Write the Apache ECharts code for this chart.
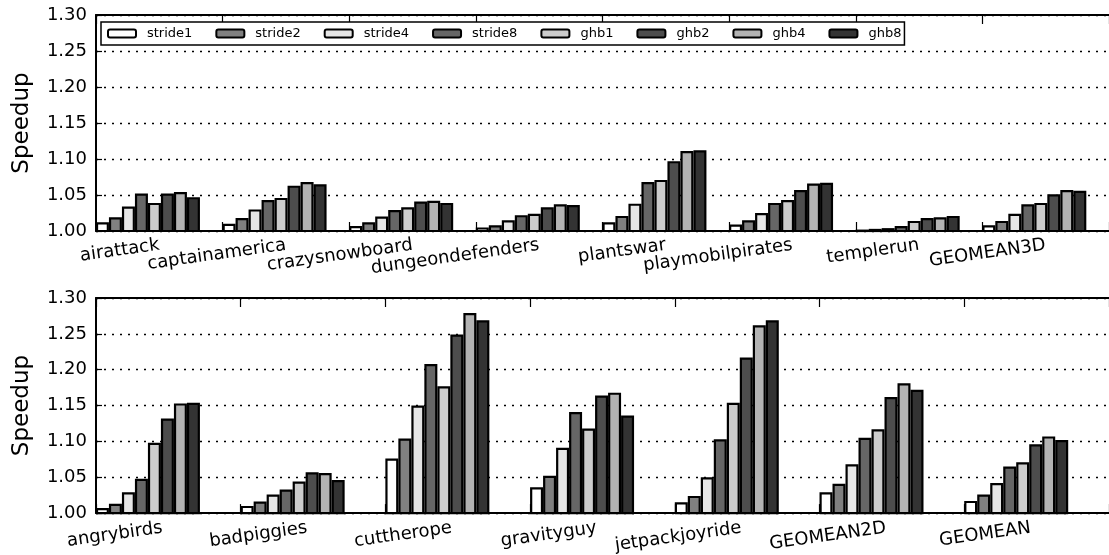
<!DOCTYPE html>
<html>
<head>
<meta charset="utf-8">
<script src="https://cdn.jsdelivr.net/npm/echarts@6/dist/echarts.min.js"></script>
<style>
html,body{margin:0;padding:0;background:#fff;}
#chart{width:1109px;height:555px;}
</style>
</head>
<body>
<div id="chart"></div>
<script>
// ---- data ----
const categoriesTop = ['airattack','captainamerica','crazysnowboard','dungeondefenders','plantswar','playmobilpirates','templerun','GEOMEAN3D'];
const categoriesBottom = ['angrybirds','badpiggies','cuttherope','gravityguy','jetpackjoyride','GEOMEAN2D','GEOMEAN'];
const seriesNames = ['stride1','stride2','stride4','stride8','ghb1','ghb2','ghb4','ghb8'];
const yTicks = [1.00, 1.05, 1.10, 1.15, 1.20, 1.25, 1.30];

// top panel values (one array per configuration, ordered as categoriesTop)
const stride1Top = [1.012, 1.010, 1.007, 1.005, 1.012, 1.009, 1.002, 1.008];
const stride2Top = [1.019, 1.018, 1.012, 1.008, 1.021, 1.015, 1.003, 1.014];
const stride4Top = [1.034, 1.030, 1.020, 1.015, 1.038, 1.025, 1.004, 1.024];
const stride8Top = [1.052, 1.043, 1.029, 1.022, 1.068, 1.039, 1.007, 1.037];
const ghb1Top    = [1.039, 1.046, 1.033, 1.024, 1.071, 1.043, 1.014, 1.039];
const ghb2Top    = [1.052, 1.063, 1.041, 1.033, 1.097, 1.057, 1.018, 1.051];
const ghb4Top    = [1.054, 1.068, 1.042, 1.037, 1.111, 1.066, 1.019, 1.057];
const ghb8Top    = [1.047, 1.065, 1.039, 1.036, 1.112, 1.067, 1.021, 1.056];

// bottom panel values (ordered as categoriesBottom)
const stride1Bottom = [1.007, 1.010, 1.076, 1.036, 1.015, 1.029, 1.017];
const stride2Bottom = [1.013, 1.016, 1.104, 1.052, 1.024, 1.041, 1.026];
const stride4Bottom = [1.029, 1.026, 1.150, 1.091, 1.050, 1.068, 1.042];
const stride8Bottom = [1.048, 1.033, 1.208, 1.141, 1.103, 1.105, 1.065];
const ghb1Bottom    = [1.098, 1.044, 1.177, 1.118, 1.154, 1.117, 1.071];
const ghb2Bottom    = [1.132, 1.057, 1.249, 1.164, 1.217, 1.162, 1.096];
const ghb4Bottom    = [1.153, 1.056, 1.279, 1.168, 1.262, 1.181, 1.107];
const ghb8Bottom    = [1.154, 1.046, 1.269, 1.136, 1.269, 1.172, 1.102];

const topData = [stride1Top, stride2Top, stride4Top, stride8Top, ghb1Top, ghb2Top, ghb4Top, ghb8Top];
const bottomData = [stride1Bottom, stride2Bottom, stride4Bottom, stride8Bottom, ghb1Bottom, ghb2Bottom, ghb4Bottom, ghb8Bottom];

// ---- style ----
const colors = ['#ffffff','#808080','#e6e6e6','#666666','#cccccc','#4d4d4d','#b3b3b3','#333333'];
const FONT = 'DejaVu Sans';
const GRID_LEFT = 96, GRID_W = 1014;
const BAR_W = 13;

const chart = echarts.init(document.getElementById('chart'), null, {renderer: 'canvas'});

function xAxes(gridIndex, cats, labelPad) {
  return [
    {
      type: 'category', gridIndex: gridIndex, data: cats, position: 'bottom',
      boundaryGap: true,
      axisLine: {show: true, lineStyle: {color: '#000', width: 2}},
      axisTick: {show: true, inside: true, length: 9, interval: 0, lineStyle: {color: '#000', width: 1.2}},
      axisLabel: {interval: 0, rotate: 8, margin: 14, fontFamily: FONT, fontSize: 18, color: '#000', padding: labelPad},
      splitLine: {show: false}
    },
    {
      type: 'category', gridIndex: gridIndex, data: cats, position: 'top',
      boundaryGap: true,
      axisLine: {show: true, lineStyle: {color: '#000', width: 2}},
      axisTick: {show: true, inside: true, length: 9, interval: 0, lineStyle: {color: '#000', width: 1.2}},
      axisLabel: {show: false},
      splitLine: {show: false}
    }
  ];
}

function yAxis(gridIndex) {
  return {
    type: 'value', gridIndex: gridIndex, min: yTicks[0], max: yTicks[yTicks.length - 1], interval: 0.05,
    name: 'Speedup', nameLocation: 'middle', nameGap: 62, nameRotate: 90,
    nameTextStyle: {fontFamily: FONT, fontSize: 23, color: '#000'},
    axisLine: {show: true, lineStyle: {color: '#000', width: 2}},
    axisTick: {show: true, inside: true, length: 6, lineStyle: {color: '#000', width: 1.2}},
    axisLabel: {margin: 9, fontFamily: FONT, fontSize: 18, color: '#000', formatter: v => v.toFixed(2)},
    splitLine: {show: true, lineStyle: {color: '#000', width: 1.3, type: [2, 6]}}
  };
}

function panelSeries(data, xIdx, yIdx, tailWidth) {
  const out = data.map((vals, i) => ({
    type: 'bar', name: seriesNames[i], xAxisIndex: xIdx, yAxisIndex: yIdx,
    data: vals, barWidth: BAR_W, barGap: '0%',
    itemStyle: {color: colors[i], borderColor: '#000', borderWidth: 2.2},
    emphasis: {disabled: true}, animation: false
  }));
  // empty spacer series so each group starts at the left edge of its band
  out.push({
    type: 'bar', name: '_spacer' + xIdx, xAxisIndex: xIdx, yAxisIndex: yIdx,
    data: data[0].map(() => '-'), barWidth: tailWidth, barGap: '0%',
    itemStyle: {color: 'transparent'}, silent: true, animation: false
  });
  return out;
}

const bandTop = GRID_W / categoriesTop.length;
const bandBottom = GRID_W / categoriesBottom.length;

const option = {
  backgroundColor: '#fff',
  animation: false,
  grid: [
    {left: GRID_LEFT, top: 15, width: GRID_W, height: 216},
    {left: GRID_LEFT, top: 298, width: GRID_W, height: 217}
  ],
  legend: {
    data: seriesNames,
    left: 101, top: 22, orient: 'horizontal',
    padding: [5, 3, 5, 6],
    itemWidth: 28, itemHeight: 8, itemGap: 23,
    icon: 'roundRect',
    backgroundColor: '#fff', borderColor: '#000', borderWidth: 1.5, borderRadius: 0,
    itemStyle: {borderColor: '#000', borderWidth: 2},
    textStyle: {fontFamily: FONT, fontSize: 13, color: '#000', padding: [0, 0, 0, 6]},
    selectedMode: false
  },
  xAxis: [].concat(xAxes(0, categoriesTop, [0, 0, 0, 0]), xAxes(1, categoriesBottom, [0, 6, 0, 0])),
  yAxis: [yAxis(0), yAxis(1)],
  series: [].concat(
    panelSeries(topData, 0, 0, bandTop - BAR_W * 8),
    panelSeries(bottomData, 2, 1, bandBottom - BAR_W * 8)
  )
};
chart.setOption(option);
</script>
</body>
</html>
